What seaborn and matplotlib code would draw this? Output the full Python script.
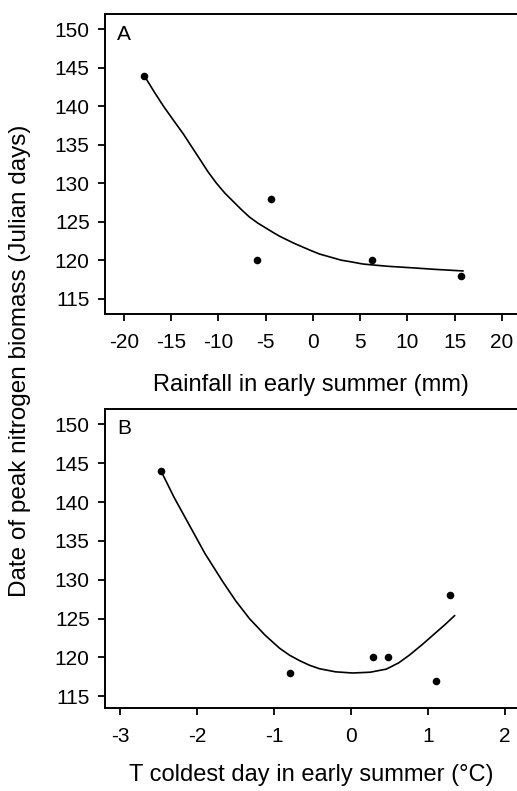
import pandas as pd
import matplotlib.pyplot as plt
import seaborn as sns

# panel A: rainfall vs date of peak N biomass
rain = [-17.9, -5.9, -4.4, 6.3, 15.7]
rain_day = [144, 120, 128, 120, 118]
# fitted curve
rain_fit_x = [-17.8, -16.8, -15.8, -14.7, -13.7, -12.8, -12.0, -11.1, -10.2, -9.3, -8.4, -7.5, -6.7, -5.8,
              -5.0, -4.2, -3.5, -2.0, -0.3, 0.7, 2.0, 3.0, 4.2, 5.3, 6.6, 8.0, 9.3, 10.6, 13.0, 15.9]
rain_fit_y = [143.9, 141.9, 140.0, 138.1, 136.4, 134.7, 133.2, 131.5, 130.0, 128.7, 127.6, 126.5, 125.6, 124.8,
              124.2, 123.6, 123.1, 122.2, 121.3, 120.8, 120.35, 120.0, 119.75, 119.5, 119.35, 119.2, 119.1, 119.0, 118.8, 118.6]

# panel B: coldest day temperature vs date
temp = [-2.47, -0.79, 0.29, 0.48, 1.11, 1.29]
temp_day = [144, 118, 120, 120, 117, 128]
temp_fit_x = [-2.47, -2.3, -2.1, -1.9, -1.67, -1.5, -1.32, -1.12, -0.93, -0.8, -0.67, -0.54, -0.41, -0.2, 0.02,
              0.25, 0.46, 0.62, 0.76, 0.92, 1.07, 1.22, 1.35]
temp_fit_y = [144.0, 140.6, 137.0, 133.4, 129.8, 127.3, 125.0, 122.9, 121.2, 120.3, 119.6, 119.0, 118.55, 118.15,
              118.0, 118.1, 118.5, 119.3, 120.3, 121.6, 122.9, 124.2, 125.4]

yticks = [115, 120, 125, 130, 135, 140, 145, 150]

sns.set_style("ticks")
plt.rcParams['font.family'] = ['Liberation Sans', 'DejaVu Sans']
plt.rcParams['axes.linewidth'] = 1.4
plt.rcParams['text.color'] = 'black'
plt.rcParams['axes.labelcolor'] = 'black'
plt.rcParams['xtick.color'] = 'black'
plt.rcParams['ytick.color'] = 'black'
plt.rcParams['axes.edgecolor'] = 'black'

fig = plt.figure(figsize=(5.17, 7.91), dpi=100)
axA = fig.add_axes([0.203, 0.603, 0.797, 0.3793])
axB = fig.add_axes([0.203, 0.105, 0.797, 0.378])

panels = [
    (axA, rain, rain_day, rain_fit_x, rain_fit_y, (-22, 21.6), [-20, -15, -10, -5, 0, 5, 10, 15, 20],
     (113, 152), 'Rainfall in early summer (mm)', 'A', -0.237),
    (axB, temp, temp_day, temp_fit_x, temp_fit_y, (-3.2, 2.16), [-3, -2, -1, 0, 1, 2],
     (113.5, 152), 'T coldest day in early summer (°C)', 'B', -0.224),
]

for ax, x, y, fx, fy, xlim, xt, ylim, xlabel, tag, lab_y in panels:
    sns.lineplot(x=fx, y=fy, ax=ax, color='black', linewidth=1.2, sort=False)
    sns.scatterplot(x=x, y=y, ax=ax, color='black', s=30, edgecolor='black', linewidth=0, zorder=3)
    ax.set_xlim(*xlim)
    ax.set_ylim(*ylim)
    ax.set_xticks(xt)
    ax.set_xticklabels([str(v) for v in xt])
    ax.set_yticks(yticks)
    ax.spines['right'].set_visible(False)
    ax.tick_params(axis='both', direction='out', length=5, width=1.3, labelsize=15, color='black',
                   labelcolor='black')
    ax.tick_params(axis='x', pad=9)
    ax.tick_params(axis='y', pad=6)
    ax.set_xlabel(xlabel, fontsize=17, va='center')
    ax.xaxis.set_label_coords(0.5, lab_y)
    ax.set_ylabel('')
    ax.text(0.03, 0.933, tag, transform=ax.transAxes, fontsize=15, va='center', ha='left')

fig.text(0.039, 0.544, 'Date of peak nitrogen biomass (Julian days)', rotation=90,
         fontsize=17.5, va='center', ha='center')

plt.savefig('out.png', dpi=100)
